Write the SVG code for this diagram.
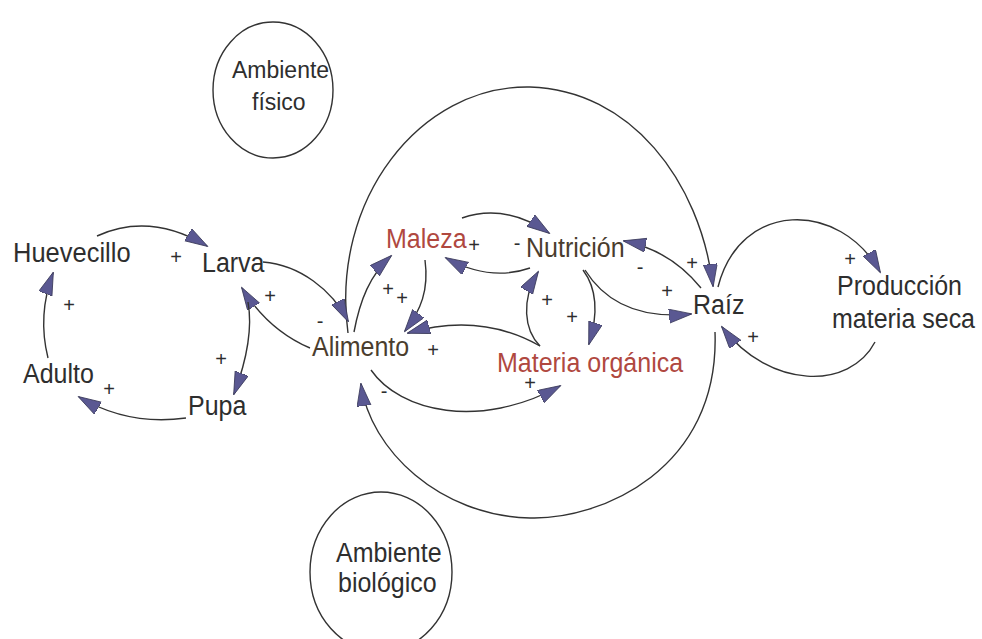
<svg xmlns="http://www.w3.org/2000/svg" width="982" height="639" viewBox="0 0 982 639">
<style>
.t{font-family:"Liberation Sans",Arial,sans-serif;font-size:25px;fill:#2e2e2e}
.r{fill:#b0483f}
.b{fill:#4a3d2e}
.s{font-family:"Liberation Sans",Arial,sans-serif;font-size:20px;fill:#2e2e2e;text-anchor:middle}
.c{fill:none;stroke:#333;stroke-width:1.4}
.e{fill:none;stroke:#333;stroke-width:1.4;marker-end:url(#ah)}
</style>
<defs>
<marker id="ah" markerUnits="userSpaceOnUse" markerWidth="26" markerHeight="16" refX="22" refY="7" orient="auto">
<path d="M0,0 L23,7 L0,14 z" fill="#5a5892" stroke="#3a3a5a" stroke-width="0.8"/>
</marker>
</defs>
<rect width="982" height="639" fill="#ffffff"/>

<g id="ambiente-fisico">
<ellipse class="c" cx="273" cy="90" rx="60" ry="68"/>
<text class="t" style="font-size:23px" transform="translate(232 78) scale(1 1.08)">Ambiente</text>
<text class="t" style="font-size:23px" transform="translate(252 110) scale(1 1.08)">físico</text>
</g>
<g id="ambiente-biologico">
<ellipse class="c" cx="381" cy="572" rx="71" ry="80"/>
<text class="t" transform="translate(336 562) scale(1 1.08)">Ambiente</text>
<text class="t" transform="translate(338 592) scale(1 1.08)">biológico</text>
</g>

<g id="connectors">
<!-- big loop -->
<path class="e" d="M348 333 C330 200 420 85 530 87 C630 90 700 180 713 286"/>
<path class="e" d="M715 332 C720 470 600 520 530 518 C440 516 370 450 361 384"/>
<!-- life cycle -->
<path class="e" d="M97 236 Q150 212 207 246"/>
<path class="e" d="M263 262 C300 265 332 290 348 321"/>
<path class="e" d="M310 348 Q268 330 242 288"/>
<path class="e" d="M248 302 C253 330 246 362 234 394"/>
<path class="e" d="M186 418 Q128 426 79 397"/>
<path class="e" d="M48 358 C41 330 43 300 53 273"/>
<!-- center -->
<path class="e" d="M354 332 C360 300 370 275 391 256"/>
<path class="e" d="M425 260 C429 290 421 310 405 331"/>
<path class="e" d="M540 346 Q480 312 408 333"/>
<path class="e" d="M540 346 C524 330 521 300 538 272"/>
<path class="e" d="M583 270 C598 290 598 315 589 344"/>
<path class="e" d="M585 270 C610 310 650 318 691 314"/>
<path class="e" d="M701 288 Q670 250 624 241"/>
<path class="e" d="M462 218 Q505 203 549 233"/>
<path class="e" d="M530 268 Q490 282 446 258"/>
<path class="e" d="M371 370 C400 412 480 430 560 386"/>
<path class="e" d="M718 287 C740 200 840 200 880 272"/>
<path class="e" d="M875 342 C850 390 770 390 722 327"/>
</g>

<g id="signs">
<text class="s" x="176" y="264">+</text>
<text class="s" x="270" y="303">+</text>
<text class="s" x="320" y="328">-</text>
<text class="s" x="221" y="366">+</text>
<text class="s" x="109" y="396">+</text>
<text class="s" x="69" y="312">+</text>
<text class="s" x="388" y="296">+</text>
<text class="s" x="402" y="305">+</text>
<text class="s" x="474" y="252">+</text>
<text class="s" x="517" y="250">-</text>
<text class="s" x="547" y="307">+</text>
<text class="s" x="572" y="324">+</text>
<text class="s" x="640" y="274">-</text>
<text class="s" x="692" y="270">+</text>
<text class="s" x="667" y="298">+</text>
<text class="s" x="433" y="357">+</text>
<text class="s" x="384" y="398">-</text>
<text class="s" x="530" y="390">+</text>
<text class="s" x="850" y="266">+</text>
<text class="s" x="753" y="344">+</text>
</g>

<g id="huevecillo"><text class="t" transform="translate(13 262) scale(1.02 1.08)">Huevecillo</text></g>
<g id="larva"><text class="t" transform="translate(202 272) scale(1 1.08)">Larva</text></g>
<g id="adulto"><text class="t" transform="translate(23 383) scale(1 1.08)">Adulto</text></g>
<g id="pupa"><text class="t" transform="translate(188 415) scale(1 1.08)">Pupa</text></g>
<g id="alimento"><text class="t b" transform="translate(312 356) scale(1 1.08)">Alimento</text></g>
<g id="maleza"><text class="t r" transform="translate(386 248) scale(1 1.08)">Maleza</text></g>
<g id="nutricion"><text class="t b" transform="translate(526 257) scale(1 1.08)">Nutrición</text></g>
<g id="materia-organica"><text class="t r" transform="translate(497 372) scale(1 1.08)">Materia orgánica</text></g>
<g id="raiz"><text class="t" transform="translate(693 314) scale(1 1.08)">Raíz</text></g>
<g id="produccion">
<text class="t" transform="translate(837 295) scale(1 1.08)">Producción</text>
<text class="t" transform="translate(832 328) scale(1 1.08)">materia seca</text>
</g>
</svg>
